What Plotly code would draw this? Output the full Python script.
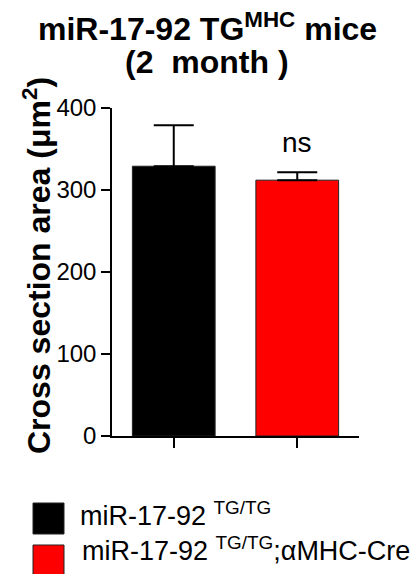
import plotly.graph_objects as go

categories = ["miR-17-92 TG/TG", "miR-17-92 TG/TG;αMHC-Cre"]
means = [329, 312]
sem = [50, 9.5]
bar_colors = ["#000000", "#ff0000"]
y_ticks = [0, 100, 200, 300, 400]
legend_labels = ["miR-17-92 <sup>TG/TG</sup>", "miR-17-92 <sup>TG/TG</sup>;αMHC-Cre"]
sig_label = "ns"
title_lines = ["miR-17-92 TG<sup>MHC</sup> mice", "(2  month )"]

W, H = 420, 574
L, R, T, B = 112, 61, 108, 138
FONT = "Arial, Liberation Sans, Helvetica, sans-serif"

fig = go.Figure()
fig.add_trace(go.Bar(
    x=[0, 1], y=means, width=0.67,
    marker=dict(color=bar_colors, line=dict(color="#222222", width=1)),
    error_y=dict(type="data", symmetric=False, array=sem, arrayminus=[0, 0],
                 color="#000000", thickness=2, width=20),
    showlegend=False,
))

fig.add_annotation(x=1, y=358, xref="x", yref="y", text=sig_label, showarrow=False,
                   font=dict(family=FONT, size=28, color="#000"), yanchor="middle")

pw, ph = W - L - R, H - T - B
def px_x(p):
    return (p - L) / pw
def px_y(p):
    return (H - B - p) / ph

# title (two lines)
for i, (line, cy) in enumerate(zip(title_lines, [27, 62])):
    fig.add_annotation(x=px_x(207), y=px_y(cy), xref="paper", yref="paper",
                       text=line, showarrow=False, xanchor="center", yanchor="middle",
                       font=dict(family=FONT, size=32, color="#000", weight="bold"))

# y title
fig.add_annotation(x=px_x(37), y=px_y(266), xref="paper", yref="paper",
                   text="Cross section area (μm<sup>2</sup>)", textangle=-90, showarrow=False,
                   font=dict(family=FONT, size=32, color="#000", weight="bold"),
                   xanchor="center", yanchor="middle")

# legend (drawn manually)
sq = [(503, 534), (545, 576)]
text_y = [514, 549]
for i, (lab, col) in enumerate(zip(legend_labels, bar_colors)):
    y0, y1 = sq[i]
    fig.add_shape(type="rect", xref="paper", yref="paper",
                  x0=px_x(33), x1=px_x(64), y0=px_y(y1), y1=px_y(y0),
                  fillcolor=col, line=dict(color="#222222", width=1))
    fig.add_annotation(x=px_x(78 + 2 * i), y=px_y(text_y[i]), xref="paper", yref="paper",
                       text=lab, showarrow=False, xanchor="left", yanchor="middle",
                       font=dict(family=FONT, size=27, color="#000"))

fig.update_layout(
    width=W, height=H,
    margin=dict(l=L, r=R, t=T, b=B),
    plot_bgcolor="white", paper_bgcolor="white",
    xaxis=dict(range=[-0.5, 1.5], showgrid=False, zeroline=False, showline=True,
               linecolor="#000", linewidth=1.5, ticks="outside", ticklen=10,
               tickwidth=1.5, tickcolor="#000", tickvals=[0, 1], showticklabels=False),
    yaxis=dict(range=[0, 400], showgrid=False, zeroline=False, showline=True,
               linecolor="#000", linewidth=1.5, ticks="outside", ticklen=9,
               tickwidth=1.5, tickcolor="#000", tickvals=y_ticks,
               tickfont=dict(family=FONT, size=24, color="#000")),
    showlegend=False,
)

fig.write_html("out.html", config={"displayModeBar": False},
               post_script="document.body.style.margin='0';document.body.style.overflow='hidden';")
